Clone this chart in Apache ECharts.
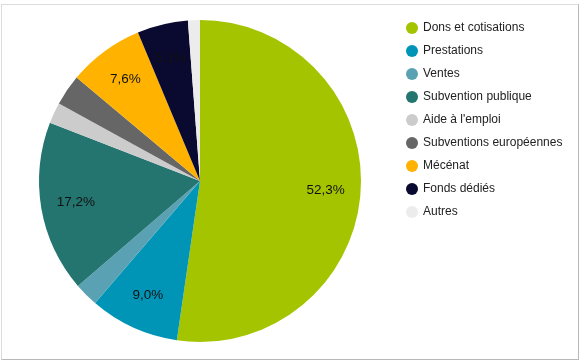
<!DOCTYPE html>
<html>
<head>
<meta charset="utf-8">
<script src="https://cdn.jsdelivr.net/npm/echarts@6/dist/echarts.min.js"></script>
<style>
html,body{margin:0;padding:0;background:#fff;}
#frame{position:absolute;left:1px;top:4px;width:576px;height:354px;border:1px solid #dcdcdc;border-right-color:#b8b8b8;border-bottom-color:#b8b8b8;}
#chart{position:absolute;left:0;top:0;width:580px;height:361px;}
</style>
</head>
<body>
<div id="frame"></div>
<div id="chart"></div>
<script>
var categories = ["Dons et cotisations","Prestations","Ventes","Subvention publique","Aide à l'emploi","Subventions européennes","Mécénat","Fonds dédiés","Autres"];
var values = [52.3, 9.0, 2.4, 17.2, 2.1, 3.1, 7.6, 5.1, 1.2];
var colors = ["#a5c400","#0095b7","#5aa2b3","#247570","#cccccc","#666666","#ffb300","#0a0a30","#ececec"];
var labelled = [true, true, false, true, false, false, true, true, false];

var data = categories.map(function(c,i){ return {name:c, value:values[i], itemStyle:{color:colors[i]}}; });
var labelData = categories.map(function(c,i){
  return {name:c, value:values[i], itemStyle:{color:'rgba(0,0,0,0)'}, label:{show:labelled[i]}};
});

var chart = echarts.init(document.getElementById('chart'), null, {renderer:'canvas'});
chart.setOption({
  animation:false,
  legend:{
    orient:'vertical', left:401, top:17,
    icon:'circle', itemWidth:12, itemHeight:12, itemGap:11, itemTextGap:7,
    textStyle:{fontFamily:'Liberation Sans, Arial, sans-serif', fontSize:12, color:'#222'},
    data:categories
  },
  series:[
    {type:'pie', center:[200,181], radius:[0,161], startAngle:90, clockwise:true,
     label:{show:false}, labelLine:{show:false}, silent:true, data:data},
    {type:'pie', center:[200,181], radius:[85,161], startAngle:90, clockwise:true, silent:true,
     labelLine:{show:false},
     label:{position:'inside', fontFamily:'Liberation Sans, Arial, sans-serif', fontSize:13.5, color:'#111',
       formatter:function(p){ return p.value.toFixed(1).replace('.',',') + '%'; }},
     data:labelData}
  ]
});
</script>
</body>
</html>
